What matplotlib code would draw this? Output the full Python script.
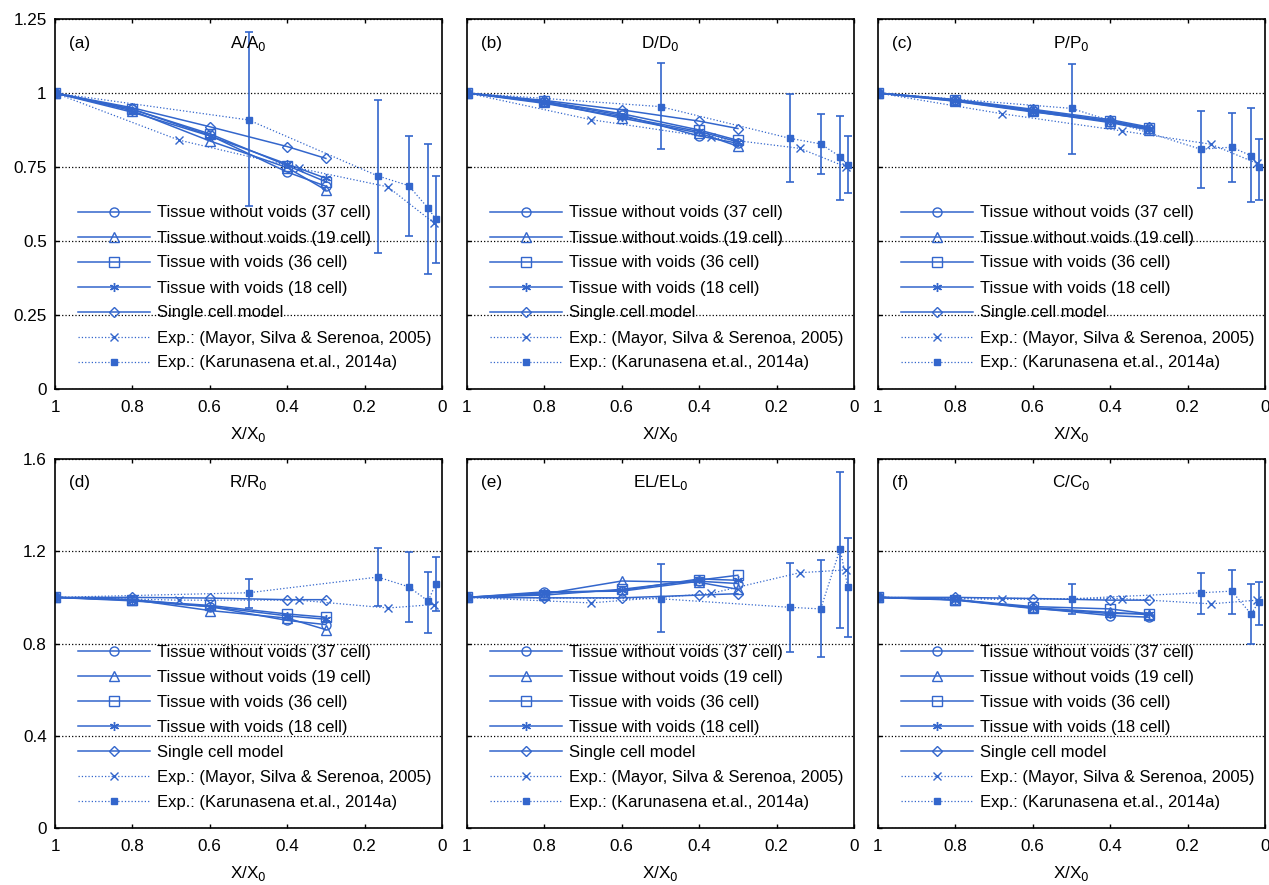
import numpy as np
import matplotlib
matplotlib.use("Agg")
import matplotlib.pyplot as plt

plt.rcParams["font.family"] = ["Liberation Sans", "DejaVu Sans"]

# x positions (fraction of initial moisture content)
x_sim = [1, 0.8, 0.6, 0.4, 0.3]
x_mayor = [1, 0.68, 0.37, 0.14, 0.02]
x_karu = [1, 0.5, 0.166, 0.086, 0.036, 0.016]

panel_tags = ["(a)", "(b)", "(c)", "(d)", "(e)", "(f)"]
panel_titles = ["A/A$_0$", "D/D$_0$", "P/P$_0$", "R/R$_0$", "EL/EL$_0$", "C/C$_0$"]
legend_labels = [
    "Tissue without voids (37 cell)",
    "Tissue without voids (19 cell)",
    "Tissue with voids (36 cell)",
    "Tissue with voids (18 cell)",
    "Single cell model",
    "Exp.: (Mayor, Silva & Serenoa, 2005)",
    "Exp.: (Karunasena et.al., 2014a)",
]

# rows: panels a..f
tw37 = [
    [1, 0.945, 0.857, 0.733, 0.685],
    [1, 0.970, 0.925, 0.855, 0.830],
    [1, 0.975, 0.940, 0.903, 0.880],
    [1, 0.990, 0.960, 0.900, 0.882],
    [1, 1.024, 1.027, 1.070, 1.060],
    [1, 0.990, 0.954, 0.921, 0.914],
]
tw19 = [
    [1, 0.940, 0.838, 0.748, 0.672],
    [1, 0.968, 0.915, 0.865, 0.820],
    [1, 0.973, 0.938, 0.900, 0.875],
    [1, 0.990, 0.943, 0.910, 0.860],
    [1, 1.015, 1.071, 1.065, 1.035],
    [1, 0.990, 0.955, 0.935, 0.925],
]
tv36 = [
    [1, 0.945, 0.862, 0.755, 0.700],
    [1, 0.972, 0.930, 0.875, 0.840],
    [1, 0.976, 0.942, 0.906, 0.882],
    [1, 0.988, 0.965, 0.928, 0.914],
    [1, 1.010, 1.035, 1.075, 1.096],
    [1, 0.990, 0.960, 0.950, 0.928],
]
tv18 = [
    [1, 0.935, 0.855, 0.760, 0.712],
    [1, 0.965, 0.920, 0.870, 0.835],
    [1, 0.972, 0.936, 0.904, 0.878],
    [1, 0.985, 0.960, 0.920, 0.905],
    [1, 1.020, 1.030, 1.080, 1.074],
    [1, 0.988, 0.952, 0.930, 0.930],
]
single = [
    [1, 0.950, 0.886, 0.819, 0.779],
    [1, 0.975, 0.943, 0.905, 0.880],
    [1, 0.978, 0.945, 0.910, 0.885],
    [1, 1.000, 0.997, 0.990, 0.990],
    [1, 0.998, 0.998, 1.010, 1.016],
    [1, 1.000, 0.995, 0.988, 0.988],
]
mayor = [
    [1, 0.841, 0.746, 0.683, 0.560],
    [1, 0.910, 0.850, 0.813, 0.750],
    [1, 0.930, 0.872, 0.827, 0.762],
    [1, 0.988, 0.988, 0.954, 0.969],
    [1, 0.976, 1.017, 1.107, 1.119],
    [1, 0.991, 0.995, 0.972, 0.988],
]
karu = [
    [1, 0.909, 0.720, 0.687, 0.611, 0.574],
    [1, 0.954, 0.847, 0.828, 0.785, 0.757],
    [1, 0.948, 0.810, 0.817, 0.788, 0.749],
    [1, 1.020, 1.088, 1.046, 0.984, 1.059],
    [1, 0.994, 0.957, 0.950, 1.210, 1.045],
    [1, 0.994, 1.020, 1.027, 0.928, 0.980],
]
karu_lo = [
    [1, 0.619, 0.460, 0.518, 0.390, 0.425],
    [1, 0.810, 0.700, 0.725, 0.638, 0.663],
    [1, 0.793, 0.678, 0.700, 0.633, 0.638],
    [1, 0.952, 0.962, 0.893, 0.845, 0.940],
    [1, 0.850, 0.765, 0.743, 0.867, 0.830],
    [1, 0.928, 0.928, 0.928, 0.800, 0.879],
]
karu_hi = [
    [1, 1.207, 0.976, 0.855, 0.827, 0.720],
    [1, 1.100, 0.997, 0.929, 0.922, 0.855],
    [1, 1.098, 0.939, 0.934, 0.948, 0.845],
    [1, 1.081, 1.212, 1.195, 1.112, 1.176],
    [1, 1.144, 1.151, 1.163, 1.543, 1.256],
    [1, 1.056, 1.105, 1.119, 1.056, 1.068],
]

top_yticks = [0, 0.25, 0.5, 0.75, 1, 1.25]
top_ylabels = ["0", "0.25", "0.5", "0.75", "1", "1.25"]
bot_yticks = [0, 0.4, 0.8, 1.2, 1.6]
bot_ylabels = ["0", "0.4", "0.8", "1.2", "1.6"]
xticks = [1, 0.8, 0.6, 0.4, 0.2, 0]
xlabels = ["1", "0.8", "0.6", "0.4", "0.2", "0"]

blue = "#3366cc"
W, H = 1269, 885
fig = plt.figure(figsize=(W / 100, H / 100), dpi=100)

lefts = [55, 467, 878]
rows = [(19, 389), (459, 828)]
aw = 387
fs = 12.3
lfs = 12.0

sim_series = [tw37, tw19, tv36, tv18, single]
sim_markers = ["o", "^", "s", (6, 2, 0), "D"]
sim_ms = [6.5, 6.5, 6.5, 6.5, 5.5]

for i in range(6):
    r, c = divmod(i, 3)
    top, bot = rows[r]
    ax = fig.add_axes([lefts[c] / W, 1 - bot / H, aw / W, (bot - top) / H])

    for data, mk, ms, lab in zip(sim_series, sim_markers, sim_ms, legend_labels[:5]):
        ax.plot(x_sim, data[i], color=blue, lw=1.1, marker=mk, ms=ms,
                mfc="none", mec=blue, mew=1.0, label=lab)
    ax.plot(x_mayor, mayor[i], color=blue, lw=0.9, ls=":", marker="x", ms=6,
            mew=1.0, label=legend_labels[5])

    # Karunasena data: line for the legend, error bars drawn separately
    y = np.array(karu[i])
    yerr = [y - np.array(karu_lo[i]), np.array(karu_hi[i]) - y]
    ax.plot(x_karu, y, color=blue, lw=0.9, ls=":", marker="s", ms=4,
            mfc=blue, mec=blue, label=legend_labels[6])
    ax.errorbar(x_karu, y, yerr=yerr, fmt="none", ecolor=blue,
                elinewidth=1.2, capsize=3, capthick=1.2)

    ax.set_xlim(1, 0)
    ax.set_xticks(xticks)
    ax.set_xticklabels(xlabels, fontsize=fs)
    ax.set_xlabel("X/X$_0$", fontsize=fs, labelpad=7)
    if r == 0:
        ax.set_ylim(0, 1.25)
        ax.set_yticks(top_yticks)
        ax.set_yticklabels(top_ylabels if c == 0 else [], fontsize=fs)
    else:
        ax.set_ylim(0, 1.6)
        ax.set_yticks(bot_yticks)
        ax.set_yticklabels(bot_ylabels if c == 0 else [], fontsize=fs)
    ax.tick_params(axis="x", direction="in", top=True, length=3, width=1, pad=8)
    ax.tick_params(axis="y", direction="in", length=3, width=1, pad=6)
    ax.grid(axis="y", color="black", ls=":", lw=0.9)
    for s in ax.spines.values():
        s.set_linewidth(1.2)

    ax.text(0.035, 0.935, panel_tags[i], transform=ax.transAxes, fontsize=fs,
            ha="left", va="center")
    ax.text(0.5, 0.935, panel_titles[i], transform=ax.transAxes, fontsize=fs,
            ha="center", va="center")

    ax.legend(loc="lower left", bbox_to_anchor=(0.06, 0.05), frameon=False,
              fontsize=lfs, handlelength=4.3, handletextpad=0.4,
              labelspacing=0.6, borderpad=0, borderaxespad=0, numpoints=1)

fig.savefig("out.png", dpi=100)
